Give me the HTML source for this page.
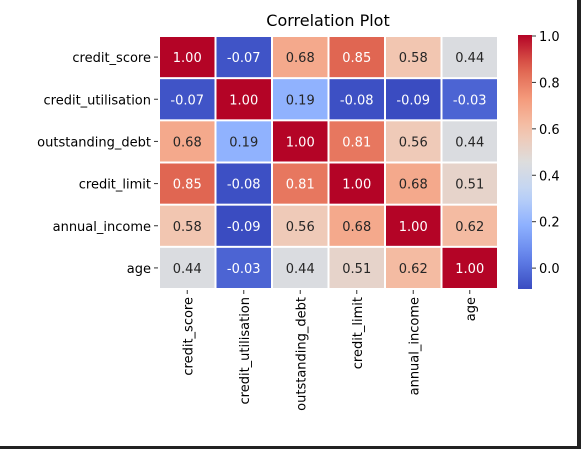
<!DOCTYPE html>
<html><head><meta charset="utf-8"><style>
body{margin:0;background:#fff;}
svg{display:block;font-family:"DejaVu Sans","Liberation Sans",sans-serif;}
</style></head><body>
<svg id="chart" width="581" height="449">
<rect x="577" y="0" width="4" height="449" fill="#222"/>
<rect x="0" y="446" width="581" height="3" fill="#222"/>
<text x="328" y="26" font-size="16" text-anchor="middle" fill="#000">Correlation Plot</text>
<g id="cells"></g><g id="ylabels"></g><g id="xlabels"></g>
<defs><linearGradient id="cg" x1="0" y1="1" x2="0" y2="0"></linearGradient></defs>
<rect x="518" y="35" width="14" height="254" fill="url(#cg)"/>
<g id="cbticks"></g>
</svg>
<script>
const labels=["credit_score","credit_utilisation","outstanding_debt","credit_limit","annual_income","age"];
const row0=[1.00,-0.07,0.68,0.85,0.58,0.44];
const row1=[-0.07,1.00,0.19,-0.08,-0.09,-0.03];
const row2=[0.68,0.19,1.00,0.81,0.56,0.44];
const row3=[0.85,-0.08,0.81,1.00,0.68,0.51];
const row4=[0.58,-0.09,0.56,0.68,1.00,0.62];
const row5=[0.44,-0.03,0.44,0.51,0.62,1.00];
const cbTicks=[0.0,0.2,0.4,0.6,0.8,1.0];
const vmin=-0.09,vmax=1.0;
const rows=[row0,row1,row2,row3,row4,row5];
const stops=[[0,58,76,193],[0.125,98,130,234],[0.25,141,176,254],[0.375,191,212,246],[0.5,221,221,221],[0.625,244,196,173],[0.75,244,154,123],[0.875,222,96,77],[1,180,4,38]];
function cmap(v){let t=Math.max(0,Math.min(1,(v-vmin)/(vmax-vmin)));
for(let i=1;i<stops.length;i++){if(t<=stops[i][0]){const a=stops[i-1],b=stops[i],f=(t-a[0])/(b[0]-a[0]);
return [1,2,3].map(k=>Math.round(a[k]+(b[k]-a[k])*f));}}return [180,4,38];}
const X0=159,Y0=36,CW=(498-159)/6,CH=(289-36)/6;
const xs=i=>X0+i*CW, ys=j=>Y0+j*CH;
const NS="http://www.w3.org/2000/svg";
function mk(tag,attrs,parent){const e=document.createElementNS(NS,tag);for(const k in attrs)e.setAttribute(k,attrs[k]);parent.appendChild(e);return e;}
const cells=document.getElementById('cells');
rows.forEach((r,j)=>r.forEach((v,i)=>{
 const c=cmap(v);
 const rc=mk('rect',{x:xs(i)+1,y:ys(j)+1,width:CW-2,height:CH-2,fill:`rgb(${c})`},cells);
 
 
 const lum=0.299*c[0]+0.587*c[1]+0.114*c[2];
 const t=mk('text',{x:xs(i)+CW/2,y:ys(j)+CH/2+5,'font-size':13,'text-anchor':'middle',fill:lum<150?'#fff':'#262626'},cells);
 t.textContent=v.toFixed(2);
 
 
}));
const yl=document.getElementById('ylabels'),xl=document.getElementById('xlabels');
labels.forEach((l,j)=>{
 const cy=ys(j)+CH/2;
 mk('line',{x1:X0-5,x2:X0-1,y1:cy,y2:cy,stroke:'#333'},yl);
 const t=mk('text',{x:X0-8,y:cy+5,'font-size':13,'text-anchor':'end',fill:'#000'},yl);
 t.textContent=l;
 
 
 const cx=xs(j)+CW/2;
 mk('line',{x1:cx,x2:cx,y1:290,y2:294,stroke:'#333'},xl);
 const u=mk('text',{x:0,y:0,'font-size':13,'text-anchor':'end',fill:'#000',transform:`translate(${cx+5},297) rotate(-90)`},xl);
 u.textContent=l;
 
 
});
const g=document.getElementById('cg');
for(let k=0;k<=20;k++){const v=vmin+(vmax-vmin)*k/20;mk('stop',{offset:(k/20),'stop-color':`rgb(${cmap(v)})`},g);}
const cb=document.getElementById('cbticks');
const cbY=v=>289-(v-vmin)/(vmax-vmin)*253;
cbTicks.forEach(v=>{const y=cbY(v);
 mk('line',{x1:532,x2:536,y1:y,y2:y,stroke:'#333'},cb);
 const t=mk('text',{x:539,y:y+5,'font-size':13,fill:'#000'},cb);
 t.textContent=v.toFixed(1);
 
 
});
</script>
</body></html>
